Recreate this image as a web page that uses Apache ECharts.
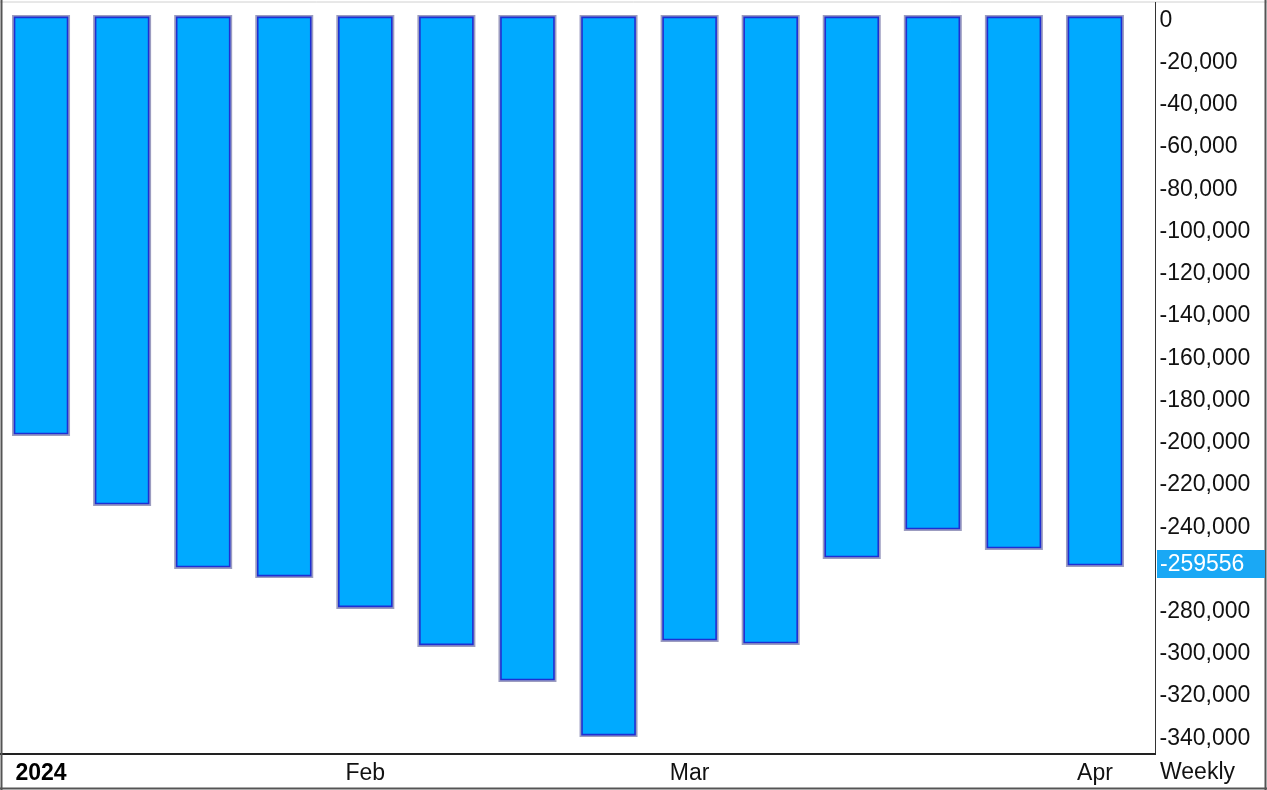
<!DOCTYPE html>
<html>
<head>
<meta charset="utf-8">
<script src="https://cdn.jsdelivr.net/npm/echarts@6/dist/echarts.min.js"></script>
<style>
html,body{margin:0;padding:0;background:#fff;}
#chart{width:1267px;height:790px;}
</style>
</head>
<body>
<div id="chart"></div>
<script>
// ---- data ----
var weeks = ['2024-01-05','2024-01-12','2024-01-19','2024-01-26','2024-02-02','2024-02-09','2024-02-16','2024-02-23','2024-03-01','2024-03-08','2024-03-15','2024-03-22','2024-03-29','2024-04-05'];
var values = [-197500,-230700,-260500,-264800,-279400,-297400,-314000,-340100,-295100,-296500,-255800,-242500,-251500,-259556];
var tickLabels = ['2024','','','','Feb','','','','Mar','','','','','Apr'];
var lastValue = -259556;
var lastLabel = '-259556';

var FONT = '"Liberation Sans", Arial, sans-serif';
var FS = 23;
var chart = echarts.init(document.getElementById('chart'));
var seriesData = values.map(function(v, i){ return [i, v]; });

var frame = [
  {id: 'fTop', type: 'line', shape: {x1: 0, y1: 2, x2: 1267, y2: 2}, style: {stroke: '#d0d0d0', lineWidth: 1}, silent: true},
  {id: 'fPlotR', type: 'line', shape: {x1: 1155.5, y1: 2, x2: 1155.5, y2: 754}, style: {stroke: '#333', lineWidth: 1}, silent: true},
  {id: 'fPlotB', type: 'line', shape: {x1: 0, y1: 754, x2: 1156, y2: 754}, style: {stroke: '#222', lineWidth: 2}, silent: true},
  {id: 'fL', type: 'line', shape: {x1: 1.5, y1: 0, x2: 1.5, y2: 790}, style: {stroke: '#555', lineWidth: 2}, silent: true},
  {id: 'fR', type: 'line', shape: {x1: 1265.5, y1: 0, x2: 1265.5, y2: 790}, style: {stroke: '#555', lineWidth: 2}, silent: true},
  {id: 'fB', type: 'line', shape: {x1: 0, y1: 788.5, x2: 1267, y2: 788.5}, style: {stroke: '#555', lineWidth: 2}, silent: true},
  {id: 'weekly', type: 'text', left: 1160, top: 761, style: {text: 'Weekly', font: FS + 'px ' + FONT, fill: '#111'}, silent: true}
];

chart.setOption({
  animation: false,
  backgroundColor: '#ffffff',
  grid: {left: 0.5, top: 0, width: 1135, height: 756, containLabel: false},
  xAxis: {
    type: 'category',
    data: weeks,
    boundaryGap: true,
    axisLine: {show: false},
    axisTick: {show: false},
    splitLine: {show: false},
    axisLabel: {
      interval: 0,
      margin: 6,
      fontFamily: FONT,
      fontSize: FS,
      color: '#111',
      formatter: function(val, idx){
        var t = tickLabels[idx];
        if (!t) return '';
        return idx === 0 ? '{b|' + t + '}' : t;
      },
      rich: {b: {fontWeight: 'bold', fontFamily: FONT, fontSize: FS, color: '#000'}}
    }
  },
  yAxis: {
    type: 'value',
    position: 'right',
    min: -350000,
    max: 8000,
    interval: 10000,
    axisLine: {show: false},
    axisTick: {show: false},
    splitLine: {show: false},
    axisLabel: {
      margin: 24,
      fontFamily: FONT,
      fontSize: FS,
      color: '#111',
      verticalAlign: 'top',
      lineHeight: 7,
      formatter: function(v){
        if (v > 0 || Math.round(v) % 20000 !== 0) return '';
        if (Math.abs(v - lastValue) < 8000) return '';
        return v === 0 ? '0' : echarts.format.addCommas(v);
      }
    }
  },
  series: [{
    type: 'custom',
    data: seriesData,
    encode: {x: 0, y: 1},
    renderItem: function(params, api){
      var idx = api.value(0);
      var top = api.coord([idx, 0]);
      var bot = api.coord([idx, api.value(1)]);
      var band = api.size([1, 0])[0];
      var w = band * 0.666;
      var x = top[0] - w / 2;
      var h = bot[1] - top[1];
      return {
        type: 'group',
        children: [
          {type: 'rect', shape: {x: x - 2, y: top[1] - 2, width: w + 4, height: h + 4}, style: {fill: '#9c9cc0'}},
          {type: 'rect', shape: {x: x + 0.5, y: top[1] + 0.5, width: w - 1, height: h - 1}, style: {fill: '#00aaff', stroke: '#1f2fd2', lineWidth: 1.6}}
        ]
      };
    }
  }],
  graphic: frame
});

// last-value marker placed through the y axis scale
var yPix = chart.convertToPixel({yAxisIndex: 0}, lastValue);
chart.setOption({
  graphic: frame.concat([
    {id: 'lvBox', type: 'rect', shape: {x: 1157, y: yPix - 15, width: 108, height: 28}, style: {fill: '#1aa8f5'}, silent: true, z: 10},
    {id: 'lvText', type: 'text', x: 1160, y: yPix, style: {text: lastLabel, font: FS + 'px ' + FONT, fill: '#ffffff', verticalAlign: 'middle', align: 'left'}, silent: true, z: 11}
  ])
});
</script>
</body>
</html>
